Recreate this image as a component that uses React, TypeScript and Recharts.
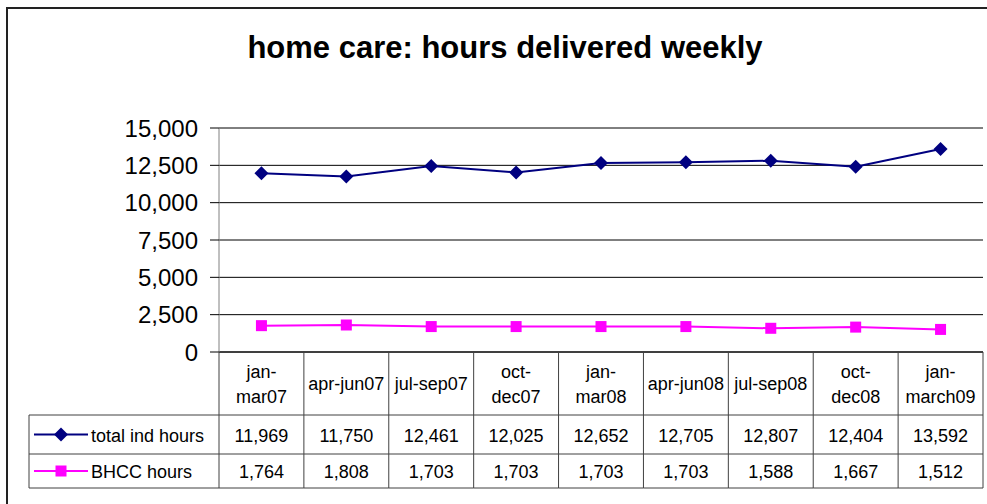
import React from 'react';
import { LineChart, Line, XAxis, YAxis, CartesianGrid } from 'recharts';

const categories = ['jan-\nmar07', 'apr-jun07', 'jul-sep07', 'oct-\ndec07', 'jan-\nmar08', 'apr-jun08', 'jul-sep08', 'oct-\ndec08', 'jan-\nmarch09'];
const totalIndHours = [11969, 11750, 12461, 12025, 12652, 12705, 12807, 12404, 13592];
const bhccHours = [1764, 1808, 1703, 1703, 1703, 1703, 1588, 1667, 1512];
const yTicks = [0, 2500, 5000, 7500, 10000, 12500, 15000];
const seriesNames = ['total ind hours', 'BHCC hours'];

const data = categories.map((name, i) => ({ name, total: totalIndHours[i], bhcc: bhccHours[i] }));

const FONT = '"Liberation Sans", Arial, sans-serif';
const NAVY = '#000080';
const MAGENTA = '#FF00FF';
const TABLE_LINE = '#404040';

const W = 987;
const H = 504;
const PLOT_LEFT = 219;
const PLOT_RIGHT = 983;
const PLOT_TOP = 128;
const PLOT_BOTTOM = 352;
const COL_W = (PLOT_RIGHT - PLOT_LEFT) / categories.length;
const ROW1_TOP = 415;
const ROW2_TOP = 454;
const TABLE_BOTTOM = 488;
const LEGEND_LEFT = 29;

const fmt = (v: number) => v.toLocaleString('en-US');

const Diamond = (props: any) => {
  const { cx, cy, index } = props;
  const r = 7;
  return <path key={`d-${index}`} d={`M${cx},${cy - r}L${cx + r},${cy}L${cx},${cy + r}L${cx - r},${cy}Z`} fill={NAVY} />;
};

const Square = (props: any) => {
  const { cx, cy, index } = props;
  const s = 11;
  return <rect key={`s-${index}`} x={cx - s / 2} y={cy - s / 2} width={s} height={s} fill={MAGENTA} />;
};

// each x tick draws one column of the data table
const TableColumn = (props: any) => {
  const { x, payload } = props;
  const i = props.index ?? payload.index;
  const left = x - COL_W / 2;
  const right = x + COL_W / 2;
  const lines = String(payload.value).split('\n');
  const headerMid = (PLOT_BOTTOM + ROW1_TOP) / 2;
  const textProps = { fontSize: 18, fontFamily: FONT, fill: '#000', textAnchor: 'middle' as const, dominantBaseline: 'central' as const };
  return (
    <g>
      {i === 0 && <line x1={left} y1={PLOT_BOTTOM} x2={left} y2={TABLE_BOTTOM} stroke={TABLE_LINE} />}
      <line x1={right} y1={PLOT_BOTTOM} x2={right} y2={TABLE_BOTTOM} stroke={TABLE_LINE} />
      <line x1={left} y1={ROW1_TOP} x2={right} y2={ROW1_TOP} stroke={TABLE_LINE} />
      <line x1={left} y1={ROW2_TOP} x2={right} y2={ROW2_TOP} stroke={TABLE_LINE} />
      <line x1={left} y1={TABLE_BOTTOM} x2={right} y2={TABLE_BOTTOM} stroke={TABLE_LINE} />
      {lines.length === 1 ? (
        <text x={x} y={headerMid} {...textProps}>{lines[0]}</text>
      ) : (
        lines.map((t, k) => (
          <text key={k} x={x} y={headerMid - 12 + k * 25} {...textProps}>{t}</text>
        ))
      )}
      <text x={x} y={(ROW1_TOP + ROW2_TOP) / 2 + 1} {...textProps}>{fmt(totalIndHours[i])}</text>
      <text x={x} y={(ROW2_TOP + TABLE_BOTTOM) / 2 + 1} {...textProps}>{fmt(bhccHours[i])}</text>
    </g>
  );
};

export default function App() {
  const legendY1 = (ROW1_TOP + ROW2_TOP) / 2;
  const legendY2 = (ROW2_TOP + TABLE_BOTTOM) / 2;
  return (
    <div style={{ position: 'absolute', left: 0, top: 0, width: W, height: H, background: '#fff', overflow: 'hidden' }}>
      <div style={{ position: 'absolute', left: 6, top: 7, width: W + 20, height: H + 20, borderTop: '2px solid #222', borderLeft: '2px solid #222' }} />
      <div style={{ position: 'absolute', left: 0, top: 0 }}>
        <LineChart width={W} height={H} data={data} margin={{ top: PLOT_TOP, right: W - PLOT_RIGHT, left: PLOT_LEFT - 200, bottom: 12 }}>
          <CartesianGrid vertical={false} stroke="#000" strokeWidth={1} />
          <XAxis
            dataKey="name"
            scale="band"
            interval={0}
            height={H - PLOT_BOTTOM - 12}
            axisLine={{ stroke: '#000' }}
            tickLine={false}
            tick={<TableColumn />}
          />
          <YAxis
            width={200}
            domain={[0, 15000]}
            ticks={yTicks}
            interval={0}
            tickFormatter={fmt}
            tickSize={9}
            tickMargin={12}
            axisLine={{ stroke: '#808080' }}
            tickLine={{ stroke: '#000' }}
            tick={{ fill: '#000', fontSize: 24, fontFamily: FONT }}
          />
          <Line dataKey="total" name={seriesNames[0]} stroke={NAVY} strokeWidth={2} dot={<Diamond />} isAnimationActive={false} />
          <Line dataKey="bhcc" name={seriesNames[1]} stroke={MAGENTA} strokeWidth={2} dot={<Square />} isAnimationActive={false} />
        </LineChart>
      </div>
      <svg width={W} height={H} style={{ position: 'absolute', left: 0, top: 0, pointerEvents: 'none' }}>
        <text x={505} y={58} textAnchor="middle" fontSize={31} fontWeight="bold" fontFamily={FONT} fill="#000">
          home care: hours delivered weekly
        </text>
        <line x1={LEGEND_LEFT} y1={ROW1_TOP} x2={PLOT_LEFT} y2={ROW1_TOP} stroke={TABLE_LINE} />
        <line x1={LEGEND_LEFT} y1={ROW2_TOP} x2={PLOT_LEFT} y2={ROW2_TOP} stroke={TABLE_LINE} />
        <line x1={LEGEND_LEFT} y1={TABLE_BOTTOM} x2={PLOT_LEFT} y2={TABLE_BOTTOM} stroke={TABLE_LINE} />
        <line x1={LEGEND_LEFT} y1={ROW1_TOP} x2={LEGEND_LEFT} y2={TABLE_BOTTOM} stroke={TABLE_LINE} />
        <line x1={34} y1={legendY1} x2={88} y2={legendY1} stroke={NAVY} strokeWidth={2} />
        <path d={`M61,${legendY1 - 7}L68,${legendY1}L61,${legendY1 + 7}L54,${legendY1}Z`} fill={NAVY} />
        <text x={91} y={legendY1 + 1} fontSize={18} fontFamily={FONT} dominantBaseline="central" fill="#000">{seriesNames[0]}</text>
        <line x1={34} y1={legendY2} x2={88} y2={legendY2} stroke={MAGENTA} strokeWidth={2} />
        <rect x={55.5} y={legendY2 - 5.5} width={11} height={11} fill={MAGENTA} />
        <text x={91} y={legendY2 + 1} fontSize={18} fontFamily={FONT} dominantBaseline="central" fill="#000">{seriesNames[1]}</text>
      </svg>
    </div>
  );
}
